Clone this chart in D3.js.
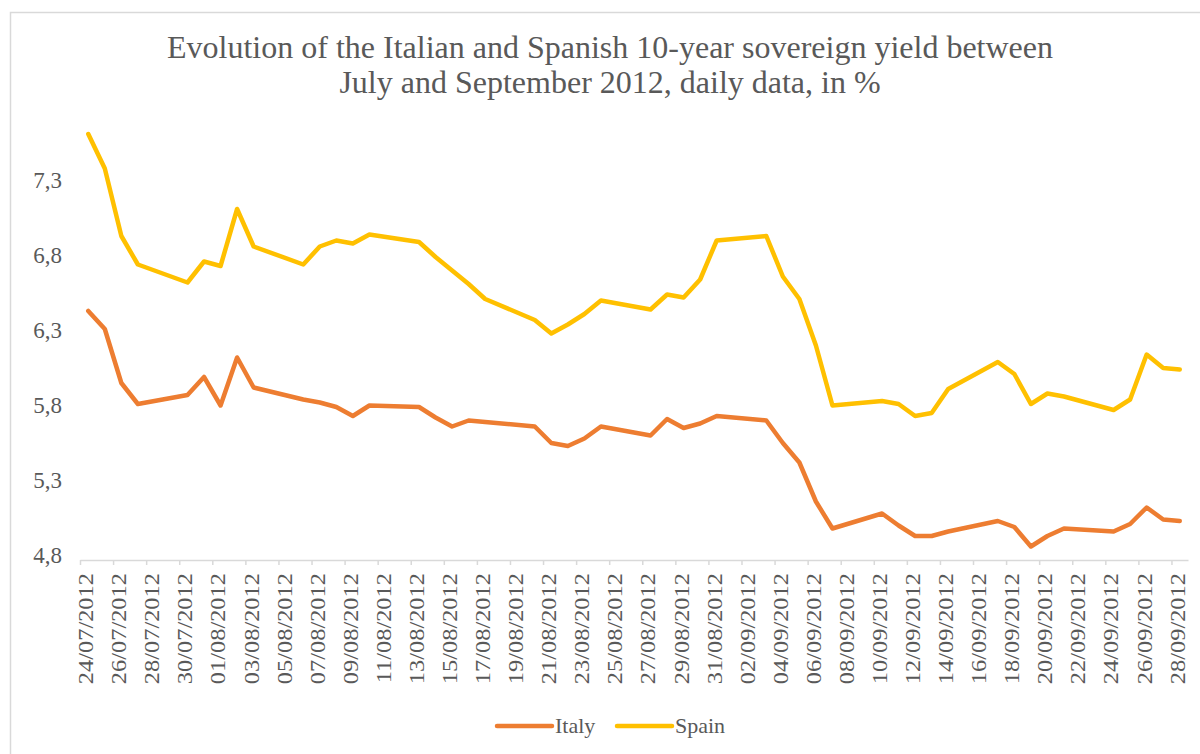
<!DOCTYPE html>
<html>
<head>
<meta charset="utf-8">
<script src="https://cdn.jsdelivr.net/npm/d3@7"></script>
<style>
  html, body { margin: 0; padding: 0; background: #fff; }
  svg { display: block; }
  svg text { font-family: "Liberation Serif", "Times New Roman", Tinos, "DejaVu Serif", serif !important; fill: #595959; }
</style>
</head>
<body>
<svg id="chart" width="1200" height="754"></svg>
<script>
// Trading days (dd/mm/yyyy)
const dates = [
  "24/07/2012","25/07/2012","26/07/2012","27/07/2012","30/07/2012","31/07/2012",
  "01/08/2012","02/08/2012","03/08/2012","06/08/2012","07/08/2012","08/08/2012","09/08/2012","10/08/2012",
  "13/08/2012","14/08/2012","15/08/2012","16/08/2012","17/08/2012","20/08/2012","21/08/2012","22/08/2012",
  "23/08/2012","24/08/2012","27/08/2012","28/08/2012","29/08/2012","30/08/2012","31/08/2012",
  "03/09/2012","04/09/2012","05/09/2012","06/09/2012","07/09/2012","10/09/2012","11/09/2012","12/09/2012",
  "13/09/2012","14/09/2012","17/09/2012","18/09/2012","19/09/2012","20/09/2012","21/09/2012",
  "24/09/2012","25/09/2012","26/09/2012","27/09/2012","28/09/2012"
];

// 10-year yields, %
const italy = [
  6.46, 6.34, 5.98, 5.84, 5.90, 6.02,
  5.83, 6.15, 5.95, 5.87, 5.85, 5.82, 5.76, 5.83,
  5.82, 5.75, 5.69, 5.73, 5.72, 5.69, 5.58, 5.56,
  5.61, 5.69, 5.63, 5.74, 5.68, 5.71, 5.76,
  5.73, 5.58, 5.45, 5.19, 5.01, 5.11, 5.03, 4.96,
  4.96, 4.99, 5.06, 5.02, 4.89, 4.96, 5.01,
  4.99, 5.04, 5.15, 5.07, 5.06
];
const spain = [
  7.64, 7.41, 6.96, 6.77, 6.65, 6.79,
  6.76, 7.14, 6.89, 6.77, 6.89, 6.93, 6.91, 6.97,
  6.92, 6.82, 6.73, 6.64, 6.54, 6.40, 6.31, 6.37,
  6.44, 6.53, 6.47, 6.57, 6.55, 6.67, 6.93,
  6.96, 6.69, 6.54, 6.23, 5.83, 5.86, 5.84, 5.76,
  5.78, 5.94, 6.12, 6.04, 5.84, 5.91, 5.89,
  5.80, 5.87, 6.17, 6.08, 6.07
];

const yTicks = [4.8, 5.3, 5.8, 6.3, 6.8, 7.3];
const axisStart = "24/07/2012";
const axisEnd = "29/09/2012";

const seriesNames = ["Italy", "Spain"];
const seriesColors = ["#ED7D31", "#FFC000"];
const titleLines = [
  "Evolution of the Italian and Spanish 10-year sovereign yield between",
  "July and September 2012, daily data, in %"
];

const parse = d3.utcParse("%d/%m/%Y");
const fmt = d3.utcFormat("%d/%m/%Y");
const DAY = 864e5;

const svg = d3.select("#chart");

// chart frame
svg.append("rect")
  .attr("x", 10.5).attr("y", 12.5)
  .attr("width", 1400).attr("height", 1000)
  .attr("fill", "none").attr("stroke", "#d9d9d9").attr("stroke-width", 1.5);

const x = d3.scaleUtc()
  .domain([parse(axisStart), parse(axisEnd)])
  .range([80, 1188]);
const y = d3.scaleLinear()
  .domain([4.8, 7.8])
  .range([560, 110]);

const halfDay = (x(parse("25/07/2012")) - x(parse("24/07/2012"))) / 2;

// title
const title = svg.append("text")
  .attr("text-anchor", "middle")
  .attr("transform", "translate(610,0)")
  .style("font-size", "32px");
titleLines.forEach((t, i) => {
  title.append("tspan").attr("x", 0).attr("y", 58 + i * 35).text(t);
});

// y axis labels (no axis line)
const yAxis = svg.append("g")
  .attr("transform", "translate(62,0)")
  .call(d3.axisLeft(y).tickValues(yTicks).tickSize(0).tickPadding(0)
    .tickFormat(d => d3.format(".1f")(d).replace(".", ",")));
yAxis.select(".domain").remove();
yAxis.selectAll("text")
  .style("font-size", "23px")
  .attr("fill", "#595959")
  .attr("dy", "0.12em");

// x axis, label every 2 days
const xTickDates = d3.utcDay.range(parse(axisStart), parse(axisEnd), 2);
const xAxis = svg.append("g")
  .attr("transform", "translate(0,560)")
  .call(d3.axisBottom(x).tickValues(xTickDates).tickSizeInner(5).tickSizeOuter(0)
    .tickFormat(fmt));
xAxis.select(".domain").attr("stroke", "#d9d9d9").attr("stroke-width", 1.5);
xAxis.selectAll(".tick line").attr("stroke", "#d9d9d9").attr("stroke-width", 1.5);
xAxis.selectAll(".tick text")
  .attr("fill", "#595959")
  .style("font-size", "22px")
  .attr("text-anchor", "end")
  .attr("x", 0).attr("y", 0).attr("dy", "0.2em")
  .attr("transform", `translate(${halfDay},13) scale(1,1.11) rotate(-90)`);

// lines
const pts = dates.map(parse);
const line = d3.line()
  .x((d, i) => x(new Date(+pts[i] + DAY / 2)))
  .y(d => y(d));

[italy, spain].forEach((vals, k) => {
  svg.append("path")
    .datum(vals)
    .attr("fill", "none")
    .attr("stroke", seriesColors[k])
    .attr("stroke-width", 4.5)
    .attr("stroke-linejoin", "round")
    .attr("stroke-linecap", "round")
    .attr("d", line);
});

// legend
const legend = svg.append("g").attr("transform", "translate(497,726)");
const legendX = [0, 120];
seriesNames.forEach((name, k) => {
  const g = legend.append("g").attr("transform", `translate(${legendX[k]},0)`);
  g.append("line")
    .attr("x1", 0).attr("x2", 55).attr("y1", 0).attr("y2", 0)
    .attr("stroke", seriesColors[k]).attr("stroke-width", 4.5)
    .attr("stroke-linecap", "round");
  g.append("text")
    .attr("x", 58).attr("y", 0).attr("dy", "0.33em")
    .style("font-size", "22px")
    .text(name);
});
</script>
</body>
</html>
